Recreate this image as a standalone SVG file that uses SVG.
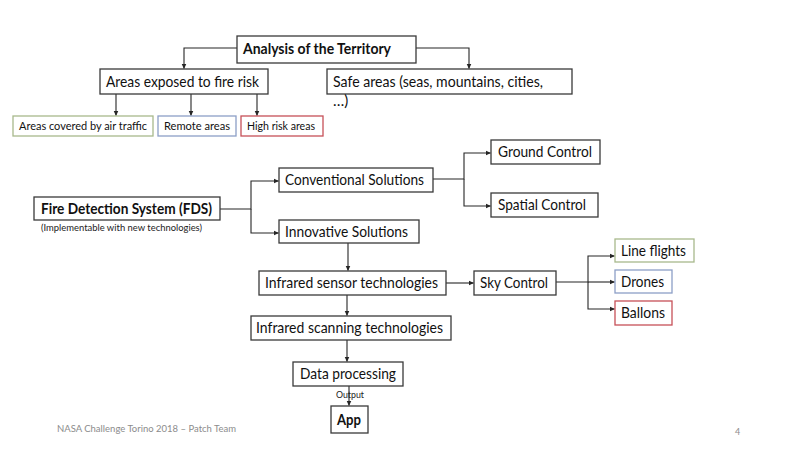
<svg xmlns="http://www.w3.org/2000/svg" width="800" height="450" viewBox="0 0 800 450">
<defs>
<marker id="ah" markerUnits="userSpaceOnUse" markerWidth="6" markerHeight="6" refX="5" refY="3" orient="auto">
<path d="M0,0.5 L5.5,3 L0,5.5 z" fill="#262626"/>
</marker>
<style>
.box{fill:#fff;stroke:#3a3a3a;stroke-width:1.3}
.g{stroke:#a8b98c}
.b{stroke:#8d9fc7}
.r{stroke:#c65058}
.t{font-family:Lato,"Liberation Sans",sans-serif;font-size:15px;fill:#111}
.s{font-family:Lato,"Liberation Sans",sans-serif;font-size:11.5px;fill:#111}
.bd{font-family:Lato,"Liberation Sans",sans-serif;font-weight:bold;fill:#111}
.tiny{font-family:Lato,"Liberation Sans",sans-serif;font-size:8.5px;fill:#222}
.foot{font-family:Lato,"Liberation Sans",sans-serif;font-size:9px;fill:#8c8c8c}
.c{fill:none;stroke:#262626;stroke-width:1.1}
</style>
</defs>
<rect width="800" height="450" fill="#fff"/>
<g id="connectors">
<path class="c" d="M237,48 H184 V68.5" marker-end="url(#ah)"/>
<path class="c" d="M416,48 H469 V68.5" marker-end="url(#ah)"/>
<path class="c" d="M116,94 V115.5" marker-end="url(#ah)"/>
<path class="c" d="M191,94 V115.5" marker-end="url(#ah)"/>
<path class="c" d="M257,94 V115.5" marker-end="url(#ah)"/>
<path class="c" d="M220,209 H251 V181 H278.5" marker-end="url(#ah)"/>
<path class="c" d="M251,209 V233 H278.5" marker-end="url(#ah)"/>
<path class="c" d="M433,179 H464 V153 H490.5" marker-end="url(#ah)"/>
<path class="c" d="M464,179 V206 H490.5" marker-end="url(#ah)"/>
<path class="c" d="M348,243 V270.5" marker-end="url(#ah)"/>
<path class="c" d="M446,283 H473.5" marker-end="url(#ah)"/>
<path class="c" d="M347,295 V315.5" marker-end="url(#ah)"/>
<path class="c" d="M556,282 H588 V256 H614.5" marker-end="url(#ah)"/>
<path class="c" d="M588,282 H614.5" marker-end="url(#ah)"/>
<path class="c" d="M588,282 V309 H614.5" marker-end="url(#ah)"/>
<path class="c" d="M347,340 V361.5" marker-end="url(#ah)"/>
<path class="c" d="M349,386 V405.5" marker-end="url(#ah)"/>
</g>
<g id="analysis">
<rect class="box" x="237" y="36" width="179" height="27"/>
<text class="bd" x="243" y="54" font-size="14.5" textLength="148" lengthAdjust="spacingAndGlyphs">Analysis of the Territory</text>
</g>
<g id="areas-exposed">
<rect class="box" x="100" y="69" width="168" height="25"/>
<text class="t" x="106" y="87" textLength="153" lengthAdjust="spacingAndGlyphs">Areas exposed to fire risk</text>
</g>
<g id="safe-areas">
<rect class="box" x="327" y="69" width="245" height="25"/>
<text class="t" x="333" y="87" textLength="210" lengthAdjust="spacingAndGlyphs">Safe areas (seas, mountains, cities,</text>
<text class="t" x="333" y="106">…)</text>
</g>
<g id="air-traffic">
<rect class="box g" x="13" y="116" width="140" height="20"/>
<text class="s" x="19" y="130" textLength="128" lengthAdjust="spacingAndGlyphs">Areas covered by air traffic</text>
</g>
<g id="remote">
<rect class="box b" x="158" y="116" width="78" height="20"/>
<text class="s" x="164" y="130" textLength="66" lengthAdjust="spacingAndGlyphs">Remote areas</text>
</g>
<g id="high-risk">
<rect class="box r" x="241" y="116" width="82" height="20"/>
<text class="s" x="247" y="130" textLength="68" lengthAdjust="spacingAndGlyphs">High risk areas</text>
</g>
<g id="ground">
<rect class="box" x="491" y="140" width="109" height="24"/>
<text class="t" x="498" y="157" textLength="94" lengthAdjust="spacingAndGlyphs">Ground Control</text>
</g>
<g id="spatial">
<rect class="box" x="491" y="193" width="107" height="24"/>
<text class="t" x="498" y="210" textLength="88" lengthAdjust="spacingAndGlyphs">Spatial Control</text>
</g>
<g id="fds">
<rect class="box" x="34" y="197" width="186" height="23"/>
<text class="bd" x="41" y="214" font-size="16" textLength="171" lengthAdjust="spacingAndGlyphs">Fire Detection System (FDS)</text>
<text class="tiny" x="41" y="231" textLength="161" lengthAdjust="spacingAndGlyphs">(Implementable with new technologies)</text>
</g>
<g id="conventional">
<rect class="box" x="279" y="168" width="154" height="24"/>
<text class="t" x="285" y="185" textLength="139" lengthAdjust="spacingAndGlyphs">Conventional Solutions</text>
</g>
<g id="innovative">
<rect class="box" x="279" y="220" width="140" height="23"/>
<text class="t" x="285" y="237" textLength="123" lengthAdjust="spacingAndGlyphs">Innovative Solutions</text>
</g>
<g id="sensor">
<rect class="box" x="259" y="271" width="187" height="24"/>
<text class="t" x="265" y="288" textLength="173" lengthAdjust="spacingAndGlyphs">Infrared sensor technologies</text>
</g>
<g id="sky">
<rect class="box" x="474" y="271" width="82" height="24"/>
<text class="t" x="480" y="288" textLength="68" lengthAdjust="spacingAndGlyphs">Sky Control</text>
</g>
<g id="line-flights">
<rect class="box g" x="615" y="239" width="79" height="23"/>
<text class="t" x="621" y="256" textLength="65" lengthAdjust="spacingAndGlyphs">Line flights</text>
</g>
<g id="drones">
<rect class="box b" x="615" y="270" width="57" height="23"/>
<text class="t" x="621" y="287" textLength="43" lengthAdjust="spacingAndGlyphs">Drones</text>
</g>
<g id="ballons">
<rect class="box r" x="615" y="301" width="57" height="24"/>
<text class="t" x="621" y="318" textLength="44" lengthAdjust="spacingAndGlyphs">Ballons</text>
</g>
<g id="scanning">
<rect class="box" x="251" y="316" width="200" height="24"/>
<text class="t" x="256" y="333" textLength="187" lengthAdjust="spacingAndGlyphs">Infrared scanning technologies</text>
</g>
<g id="data-processing">
<rect class="box" x="293" y="362" width="110" height="24"/>
<text class="t" x="300" y="379" textLength="96" lengthAdjust="spacingAndGlyphs">Data processing</text>
</g>
<text class="tiny" x="336" y="398" textLength="28" lengthAdjust="spacingAndGlyphs">Output</text>
<g id="app">
<rect class="box" x="331" y="406" width="37" height="27"/>
<text class="bd" x="337" y="425" font-size="14.5" textLength="24" lengthAdjust="spacingAndGlyphs">App</text>
</g>
<text class="foot" x="57" y="432" textLength="179" lengthAdjust="spacingAndGlyphs">NASA Challenge Torino 2018 – Patch Team</text>
<text class="foot" x="735" y="435">4</text>
</svg>
